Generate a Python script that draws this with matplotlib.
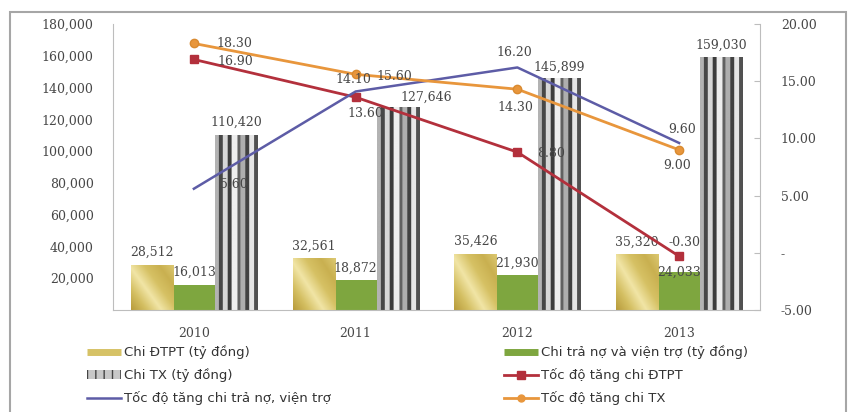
import matplotlib
matplotlib.use("Agg")
import matplotlib.pyplot as plt
import numpy as np
from matplotlib.ticker import FixedLocator, FuncFormatter
from matplotlib.lines import Line2D
from matplotlib.patches import Patch, Rectangle
from matplotlib.colors import LinearSegmentedColormap

# ---- data -------------------------------------------------------------
years = ["2010", "2011", "2012", "2013"]
chi_dtpt = [28512, 32561, 35426, 35320]          # Chi ĐTPT (tỷ đồng)
chi_tra_no = [16013, 18872, 21930, 24033]        # Chi trả nợ và viện trợ (tỷ đồng)
chi_tx = [110420, 127646, 145899, 159030]        # Chi TX (tỷ đồng)
tang_dtpt = [16.90, 13.60, 8.80, -0.30]          # Tốc độ tăng chi ĐTPT
tang_tra_no = [5.60, 14.10, 16.20, 9.60]         # Tốc độ tăng chi trả nợ, viện trợ
tang_tx = [18.30, 15.60, 14.30, 9.00]            # Tốc độ tăng chi TX

label_dtpt = "Chi ĐTPT (tỷ đồng)"
label_tra_no = "Chi trả nợ và viện trợ (tỷ đồng)"
label_tx = "Chi TX (tỷ đồng)"
label_tang_dtpt = "Tốc độ tăng chi ĐTPT"
label_tang_tra_no = "Tốc độ tăng chi trả nợ, viện trợ"
label_tang_tx = "Tốc độ tăng chi TX"

left_ticks = [0, 20000, 40000, 60000, 80000, 100000, 120000, 140000, 160000, 180000]
right_ticks = [-5, 0, 5, 10, 15, 20]

# ---- styling ----------------------------------------------------------
W, H = 849, 412
PX = 72 / 100.0  # points per pixel at dpi=100
TXT = "#474747"
AXC = "#bdbdbd"
NUM_FONT = dict(family="DejaVu Serif", size=9, color=TXT)

c_gold = "#d6c266"
c_green = "#7ea63f"
c_red = "#b3303c"
c_blue = "#5d5ca6"
c_orange = "#e8963c"

fig = plt.figure(figsize=(W / 100, H / 100), dpi=100)
fig.patch.set_facecolor("white")
ax = fig.add_axes([113 / W, 102 / H, 647 / W, 286 / H])
ax2 = ax.twinx()

x = np.arange(len(years))
bw = 0.26

bars_gold = ax.bar(x - bw, chi_dtpt, width=bw, color=c_gold, linewidth=0, zorder=2)
bars_green = ax.bar(x, chi_tra_no, width=bw, color=c_green, linewidth=0, zorder=2)
bars_tx = ax.bar(x + bw, chi_tx, width=bw, color="#b0b0b0", linewidth=0, zorder=2)

ax.set_xlim(-0.5, len(years) - 0.5)
ax.set_ylim(0, 180000)

# gold bars: diagonal metallic sheen
gold_cmap = LinearSegmentedColormap.from_list(
    "gold", ["#b89c3c", "#d4bf62", "#f1e5a6", "#d6c164", "#c9b050", "#dcc872"])
gu, gv = np.meshgrid(np.linspace(0, 1, 60), np.linspace(0, 1, 60))
gold_img = np.clip((gu * 0.9 + gv * 0.7) / 1.6, 0, 1)
for b in bars_gold:
    x0, y0 = b.get_xy()
    im = ax.imshow(gold_img, extent=[x0, x0 + b.get_width(), y0, y0 + b.get_height()],
                   origin="lower", aspect="auto", cmap=gold_cmap, vmin=0, vmax=1,
                   interpolation="bilinear", zorder=2.1)
    im.set_clip_path(b)

# TX bars: vertical gray stripes
stripe = ([0.70] * 4 + [0.28] * 4 + [0.84] * 5 + [0.24] * 4 + [0.93] * 6 + [0.38] * 3
          + [0.68] * 5 + [0.26] * 4 + [0.90] * 5 + [0.32] * 4)
stripe_img = np.array([stripe])
for b in bars_tx:
    x0, y0 = b.get_xy()
    im = ax.imshow(stripe_img, extent=[x0, x0 + b.get_width(), y0, y0 + b.get_height()],
                   origin="lower", aspect="auto", cmap="gray", vmin=0, vmax=1,
                   interpolation="bilinear", zorder=2.1)
    im.set_clip_path(b)

ax.set_xlim(-0.5, len(years) - 0.5)
ax.set_ylim(0, 180000)

# ---- lines on the secondary axis -------------------------------------
ax2.plot(x, tang_dtpt, color=c_red, lw=2, marker="s", ms=6,
         mfc=c_red, mec=c_red, zorder=4)
ax2.plot(x, tang_tra_no, color=c_blue, lw=1.8, zorder=4)
ax2.plot(x, tang_tx, color=c_orange, lw=2, marker="o", ms=6,
         mfc=c_orange, mec="#d98a30", zorder=4)
ax2.set_ylim(-5, 20)

# ---- axes ---------------------------------------------------------------
for a in (ax, ax2):
    a.spines["top"].set_visible(False)
ax.spines["right"].set_visible(False)
ax2.spines["left"].set_visible(False)
ax2.spines["bottom"].set_visible(False)
ax.spines["left"].set_color(AXC)
ax.spines["bottom"].set_color(AXC)
ax2.spines["right"].set_color(AXC)

ax.set_xticks(x)
ax.set_xticklabels(years, fontdict=NUM_FONT)
ax.tick_params(axis="x", length=0, pad=12)

ax.yaxis.set_major_locator(FixedLocator(left_ticks))
ax.yaxis.set_major_formatter(FuncFormatter(lambda v, p: "" if v == 0 else f"{v:,.0f}"))
ax.tick_params(axis="y", length=0, pad=14, labelcolor=TXT)
for t in ax.get_yticklabels():
    t.set_fontfamily("DejaVu Serif")
    t.set_fontsize(9)

ax2.yaxis.set_major_locator(FixedLocator(right_ticks))
ax2.yaxis.set_major_formatter(FuncFormatter(lambda v, p: "-" if v == 0 else f"{v:.2f}"))
ax2.tick_params(axis="y", direction="in", length=4, color=AXC, pad=15, labelcolor=TXT)
for t in ax2.get_yticklabels():
    t.set_fontfamily("DejaVu Serif")
    t.set_fontsize(9)

# ---- value labels ---------------------------------------------------
def bar_labels(bars, values, offsets):
    for b, v, (dx, dy) in zip(bars, values, offsets):
        ax.annotate(f"{v:,.0f}", (b.get_x() + b.get_width() / 2, b.get_height()),
                    xytext=(dx * PX, dy * PX), textcoords="offset points",
                    ha="center", va="center", zorder=6, **NUM_FONT)

bar_labels(bars_gold, chi_dtpt, [(0, 12)] * 4)
bar_labels(bars_green, chi_tra_no, [(0, 12), (0, 12), (0, 12), (0, 0)])
bar_labels(bars_tx, chi_tx, [(0, 12), (29, 10), (0, 11), (0, 12)])


def line_labels(values, specs):
    for xi, v, (dx, dy, ha) in zip(x, values, specs):
        ax2.annotate(f"{v:.2f}", (xi, v), xytext=(dx * PX, dy * PX),
                     textcoords="offset points", ha=ha, va="center", zorder=6, **NUM_FONT)

line_labels(tang_tx, [(23, 0, "left"), (21, -2, "left"), (-2, -18, "center"), (-2, -16, "center")])
line_labels(tang_dtpt, [(24, -2, "left"), (10, -16, "center"), (20, -1, "left"), (5, 14, "center")])
line_labels(tang_tra_no, [(26, 4, "left"), (-2, 12, "center"), (-3, 15, "center"), (3, 13, "center")])

# ---- legend ------------------------------------------------------------
h_gold = Line2D([], [], color=c_gold, lw=5, solid_capstyle="butt")
h_green = Line2D([], [], color=c_green, lw=5, solid_capstyle="butt")
h_tx = Patch(facecolor="#c8c8c8", edgecolor="#444444", hatch="||", linewidth=0)
h_red = Line2D([], [], color=c_red, lw=2, marker="s", ms=6, mfc=c_red, mec=c_red)
h_blue = Line2D([], [], color=c_blue, lw=1.8)
h_orange = Line2D([], [], color=c_orange, lw=2, marker="o", ms=5, mfc=c_orange, mec=c_orange)

leg_kw = dict(loc="upper left", frameon=False, borderpad=0, handlelength=2.6,
              handletextpad=0.25, labelspacing=0.68,
              prop={"family": "DejaVu Sans", "size": 9.5}, labelcolor="#333333")
fig.legend([h_gold, h_tx, h_blue], [label_dtpt, label_tx, label_tang_tra_no],
           bbox_to_anchor=(80 / W, (H - 339) / H), **leg_kw)
fig.legend([h_green, h_red, h_orange], [label_tra_no, label_tang_dtpt, label_tang_tx],
           bbox_to_anchor=(497 / W, (H - 339) / H), **leg_kw)

# outer frame
fig.patches.append(Rectangle((10 / W, -0.02), (846 - 10) / W, (H - 12) / H + 0.02,
                             transform=fig.transFigure, fill=False,
                             edgecolor="#a6a6a6", linewidth=1.5))

fig.savefig("out.png", dpi=100, facecolor="white")
